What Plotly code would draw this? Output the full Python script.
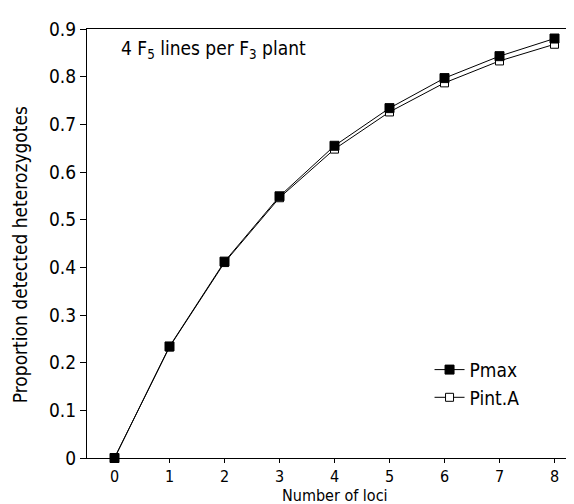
import plotly.graph_objects as go

loci = [0, 1, 2, 3, 4, 5, 6, 7, 8]
pmax = [0.0, 0.234, 0.412, 0.549, 0.655, 0.734, 0.797, 0.843, 0.880]
pint_a = [0.0, 0.233, 0.410, 0.546, 0.648, 0.726, 0.787, 0.833, 0.868]
y_ticks = [0, 0.1, 0.2, 0.3, 0.4, 0.5, 0.6, 0.7, 0.8, 0.9]
y_ticklabels = ["0", "0.1", "0.2", "0.3", "0.4", "0.5", "0.6", "0.7", "0.8", "0.9"]

FONT = "DejaVu Sans Condensed, DejaVu Sans, sans-serif"
FS = 19

fig = go.Figure()
fig.add_trace(go.Scatter(
    x=loci, y=pint_a, name="Pint.A", mode="lines+markers",
    line=dict(color="black", width=1),
    marker=dict(symbol="square", size=8, color="white", line=dict(color="black", width=1)),
    cliponaxis=False,
))
fig.add_trace(go.Scatter(
    x=loci, y=pmax, name="Pmax", mode="lines+markers",
    line=dict(color="black", width=1),
    marker=dict(symbol="square", size=9, color="black", line=dict(color="black", width=1)),
    cliponaxis=False,
))

fig.add_annotation(
    x=0.065, y=0.952, xref="paper", yref="paper", xanchor="left", yanchor="middle",
    text="4 F<sub>5</sub> lines per F<sub>3</sub> plant", showarrow=False,
    font=dict(size=FS, color="black", family=FONT),
)
fig.add_annotation(
    x=0.5, y=-0.113, xref="paper", yref="paper", xanchor="center", yanchor="bottom",
    text="Number of loci", showarrow=False, borderpad=0,
    font=dict(size=16, color="black", family=FONT),
)
fig.add_annotation(
    x=-0.135, y=0.473, xref="paper", yref="paper", xanchor="center", yanchor="middle",
    text="Proportion detected heterozygotes", showarrow=False, textangle=-90,
    font=dict(size=FS, color="black", family=FONT),
)

fig.update_layout(
    width=574, height=504,
    margin=dict(l=79, r=0, t=21, b=54),
    paper_bgcolor="white", plot_bgcolor="white",
    font=dict(family=FONT, size=FS, color="black"),
    showlegend=True,
    legend=dict(
        x=0.692, y=0.25, xanchor="left", yanchor="top",
        traceorder="reversed", bgcolor="rgba(0,0,0,0)",
        font=dict(size=FS, family=FONT), itemwidth=30, tracegroupgap=0,
    ),
    xaxis=dict(
        range=[-0.5, 8.5], tickvals=loci, ticks="outside", ticklen=4,
        tickcolor="black", showline=True, linecolor="black", linewidth=1,
        mirror=True, showgrid=False, zeroline=False, automargin=False,
        tickfont=dict(size=16),
    ),
    yaxis=dict(
        range=[0, 0.9], tickvals=y_ticks, ticktext=y_ticklabels, ticks="outside",
        ticklen=6, tickcolor="black", showline=True, linecolor="black", linewidth=1,
        showgrid=False, zeroline=False, automargin=False,
        tickfont=dict(size=FS),
    ),
)

fig.write_html("out.html")
